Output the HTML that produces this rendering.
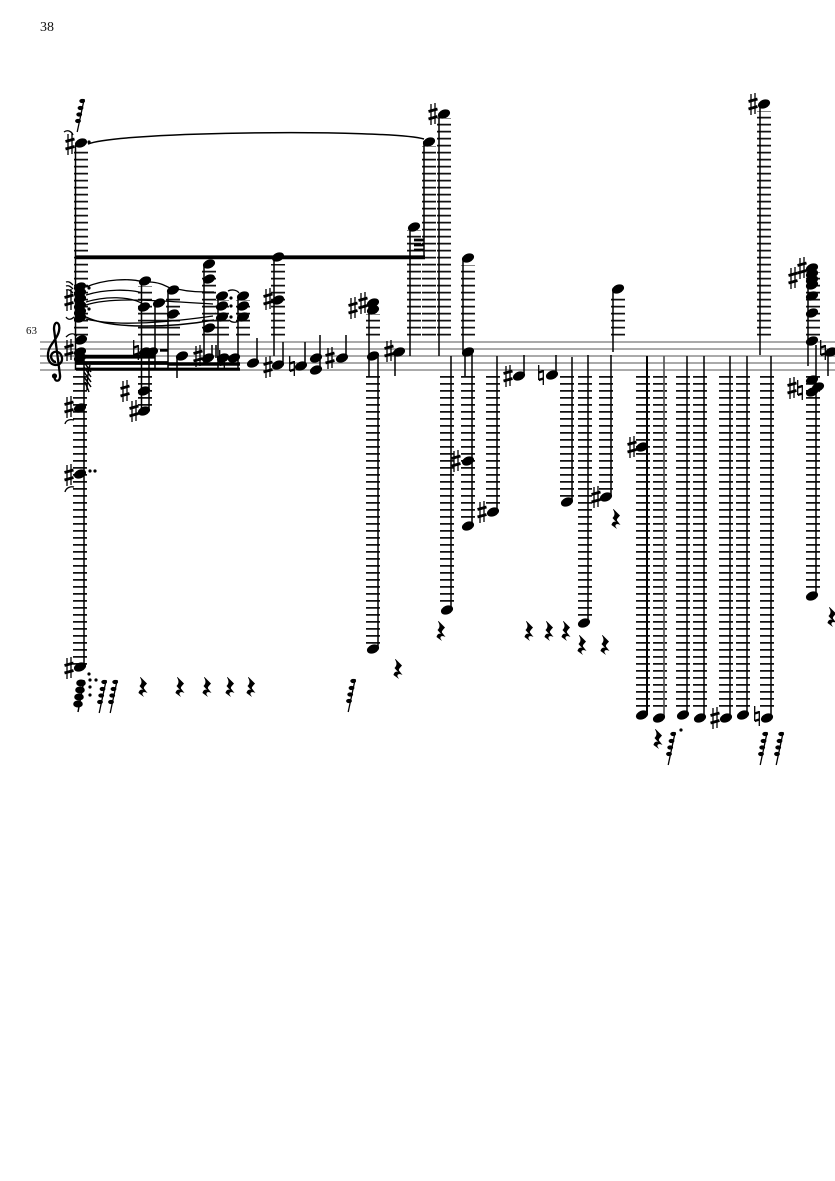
<!DOCTYPE html>
<html><head><meta charset="utf-8"><style>
html,body{margin:0;padding:0;background:#fff;width:835px;height:1181px;overflow:hidden}
svg{display:block}
text{font-family:"Liberation Serif",serif;fill:#111}
.l{stroke:#111;fill:none;stroke-dasharray:1.7 5.3;stroke-width:14}
.s{stroke:#000;stroke-width:1.5;fill:none}
.t{stroke:#000;stroke-width:1.3;fill:none}
</style></head><body>
<svg width="835" height="1181" viewBox="0 0 835 1181" xmlns="http://www.w3.org/2000/svg">
<defs>
<ellipse id="n" rx="6.3" ry="4.3" transform="rotate(-22)" fill="#000"/>
<g id="sh" stroke="#000" fill="none"><path d="M-2 -10V11M2 -11V10" stroke-width="1.300"/><path d="M-4.500 -2.500L4.500 -5M-4.500 5L4.500 2.500" stroke-width="2.800"/></g>
<g id="na" stroke="#000" fill="none"><path d="M-2.300 -10V5M2.300 -5V10" stroke-width="1.300"/><path d="M-2.300 -2.500L2.300 -4M-2.300 5L2.300 3.500" stroke-width="2.400"/></g>
<path id="r" d="M-2.500 -10L4 -3.500C2 -1 0.500 0 1 1.500L4.500 6C1.500 4.500 -1 5 -0.500 7.500L1 10L-4.500 6C-4 3.500 -2 2 0 3L-3.500 -1C-1.500 -3 -0.500 -5.500 -3 -9.500Z" fill="#000"/>
<g id="g" fill="#000"><path d="M-3.800 17L3.200 -16" stroke="#000" stroke-width="1.300" fill="none"/><ellipse cx="1.200" cy="-14" rx="2.900" ry="2.100"/><ellipse cx="-0.500" cy="-7" rx="2.900" ry="2.100"/><ellipse cx="-1.800" cy="-0.500" rx="2.900" ry="2.100"/><ellipse cx="-3" cy="6" rx="2.900" ry="2.100"/></g>
</defs>

<text x="40" y="31" font-size="14">38</text>
<text x="26" y="334" font-size="11">63</text>

<!-- staff -->
<path d="M40 342H835M40 349H835M40 356H835M40 363H835M40 370H835" stroke="#777" stroke-width="1.300" fill="none"/>

<!-- clef -->
<path d="M55 376C53 382 61 383 60 375L54 329C54 319 61 322 59 331C57 341 47 345 48 357C49 368 63 367 62 358C61 350 52 350 51 356C51 360 54 362 56 362" stroke="#000" stroke-width="2.300" fill="none"/>
<circle cx="54.500" cy="376" r="2.600" fill="#000"/>

<!-- ledger lines above -->
<g class="l">
<path d="M81 335.500V150"/><path d="M145 335.500V286"/><path d="M159 335.500V310"/><path d="M173 335.500V295"/>
<path d="M209 335.500V270"/><path d="M222 335.500V300"/><path d="M243 335.500V300"/><path d="M278 335.500V264"/>
<path d="M373 335.500V314"/><path d="M414 335.500V230"/><path d="M429 335.500V146"/><path d="M444 335.500V118"/>
<path d="M468 335.500V265"/><path d="M618 335.500V295"/><path d="M764 335.500V111"/><path d="M813 335.500V272"/>
</g>
<!-- ledger lines below -->
<g class="l">
<path d="M80 376V666"/><path d="M145 376V406"/><path d="M373 376V644"/><path d="M447 376V602"/>
<path d="M468 376V518"/><path d="M493 376V505"/><path d="M567 376V497"/><path d="M585 376V616"/>
<path d="M606 376V490"/><path d="M643 376V710"/><path d="M660 376V710"/><path d="M683 376V710"/>
<path d="M700 376V710"/><path d="M726 376V710"/><path d="M743 376V710"/><path d="M767 376V710"/><path d="M813 376V591"/>
</g>

<!-- stems -->
<g class="s">
<path d="M75.500 145V370M84 360V667"/>
<path d="M141.500 282V411M149 355V411M155 305V369M168 290V369M177 357V378"/>
<path d="M204 264V365M212 345V358M216 345V358M218 297V369M238 298V369"/>
<path d="M257 338V363M274 257V356M283 342V365M305 342V364M320 335V369M346 335V358"/>
<path d="M369 305V377M378 356V648M395 354V376"/>
<path d="M410 228V356M424 141V257M439 115V356M451 356V609"/>
<path d="M463 258V352M472 352V525M497 356V511"/>
<path d="M465 352V376M524 355V375M556 355V375M572 357V500M588 355V622M611 355V496M613 290V352"/>
<path d="M647 356V714" stroke-width="2"/><path d="M664 356V717" stroke="#555" stroke-width="1.700"/><path d="M687 356V714M704 356V717M730 356V717M747 356V714M771 356V717M760 105V355"/>
<path d="M808 270V366M816 345V595M828 355V376"/>
</g>

<!-- beams -->
<path d="M75 257.300H425" stroke="#000" stroke-width="3.800"/>
<g stroke="#000" fill="none">
<path d="M76 356.700H155" stroke-width="3.800"/>
<path d="M160 350.300H168" stroke-width="2.800"/>
<path d="M76 363H168" stroke-width="3.800"/>
<path d="M168 364H240" stroke-width="3.400"/>
<path d="M76 369.200H240" stroke-width="3.200"/>
<path d="M217 357.500H239" stroke-width="2.800"/>
<path d="M414 240H424M414 245H424M414 250H424" stroke-width="2.800"/>
</g>
<!-- hatch flags -->
<g stroke="#000" stroke-width="1.500" fill="none">
<path d="M84 362L91 372M84 367L91 377M84 372L91 382M84 377L91 387M85 382L89 392"/>
<path d="M90 365C88 372 87 380 87 390"/>
</g>

<!-- ties -->
<g class="t">
<path d="M88 144C120 131 390 129 424 139" stroke-width="1.500"/>
<path d="M86 287C105 279 130 278 143 282"/>
<path d="M149 282C158 282 164 285 170 288"/>
<path d="M177 289C190 292 200 292 214 292"/>
<path d="M86 295C105 289 130 289 142 293"/>
<path d="M86 302C105 296 130 296 143 304"/>
<path d="M86 305C110 297 150 300 213 304"/>
<path d="M86 317C110 329 170 328 214 320" stroke-width="1.500"/>
<path d="M86 319C110 325 150 325 213 316"/>
<path d="M66 282C69 281 71 283 73 285M66 286C69 285 71 287 73 289M66 290C69 289 71 291 73 293M66 317C68 320 71 320 74 317"/>
<path d="M64 132C68 129 72 132 73 135M66 337C70 333 74 333 77 336M65 424C66 420 70 419 74 420M65 492C66 488 70 486 74 487"/>
<path d="M228 291C232 289 237 290 239 293M229 320C232 323 237 323 239 320"/>
</g>

<!-- noteheads -->
<g>
<use href="#n" x="81" y="143"/>
<use href="#n" x="80" y="287"/><use href="#n" x="80" y="293"/><use href="#n" x="80" y="299"/><use href="#n" x="80" y="306"/><use href="#n" x="80" y="312"/><use href="#n" x="80" y="318"/>
<use href="#n" x="81" y="340"/><use href="#n" x="80" y="352"/><use href="#n" x="80" y="358"/>
<use href="#n" x="80" y="408"/><use href="#n" x="80" y="474"/><use href="#n" x="80" y="667"/>
<use href="#n" x="145" y="281"/><use href="#n" x="144" y="307"/><use href="#n" x="159" y="303"/><use href="#n" x="173" y="290"/><use href="#n" x="173" y="314"/>
<use href="#n" x="145" y="352"/><use href="#n" x="152" y="352"/><use href="#n" x="144" y="391"/><use href="#n" x="144" y="411"/>
<use href="#n" x="182" y="356"/>
<use href="#n" x="209" y="264"/><use href="#n" x="209" y="279"/><use href="#n" x="209" y="328"/><use href="#n" x="208" y="358"/>
<use href="#n" x="222" y="296"/><use href="#n" x="222" y="306"/><use href="#n" x="222" y="317"/><use href="#n" x="223" y="358"/><use href="#n" x="234" y="358"/>
<use href="#n" x="243" y="296"/><use href="#n" x="243" y="306"/><use href="#n" x="243" y="317"/>
<use href="#n" x="253" y="363"/><use href="#n" x="278" y="257"/><use href="#n" x="278" y="300"/><use href="#n" x="278" y="365"/>
<use href="#n" x="301" y="366"/><use href="#n" x="316" y="358"/><use href="#n" x="316" y="370"/><use href="#n" x="342" y="358"/>
<use href="#n" x="373" y="303"/><use href="#n" x="373" y="310"/><use href="#n" x="373" y="356"/><use href="#n" x="373" y="649"/>
<use href="#n" x="399" y="352"/><use href="#n" x="414" y="227"/><use href="#n" x="429" y="142"/><use href="#n" x="444" y="114"/>
<use href="#n" x="447" y="610"/><use href="#n" x="468" y="258"/><use href="#n" x="468" y="352"/><use href="#n" x="468" y="461"/><use href="#n" x="468" y="526"/>
<use href="#n" x="493" y="512"/><use href="#n" x="519" y="376"/><use href="#n" x="552" y="375"/><use href="#n" x="567" y="502"/>
<use href="#n" x="584" y="623"/><use href="#n" x="606" y="497"/><use href="#n" x="618" y="289"/><use href="#n" x="642" y="447"/>
<use href="#n" x="642" y="715"/><use href="#n" x="659" y="718"/><use href="#n" x="683" y="715"/><use href="#n" x="700" y="718"/>
<use href="#n" x="726" y="718"/><use href="#n" x="743" y="715"/><use href="#n" x="767" y="718"/><use href="#n" x="764" y="104"/>
<use href="#n" x="812" y="268"/><use href="#n" x="812" y="274"/><use href="#n" x="812" y="280"/><use href="#n" x="812" y="285"/><use href="#n" x="812" y="296"/><use href="#n" x="812" y="313"/><use href="#n" x="812" y="341"/>
<use href="#n" x="812" y="380"/><use href="#n" x="812" y="392"/><use href="#n" x="818" y="387"/><use href="#n" x="812" y="596"/><use href="#n" x="831" y="352"/>
</g>

<!-- accidentals -->
<g>
<use href="#sh" x="70" y="144"/><use href="#sh" x="69" y="300"/><use href="#sh" x="69" y="350"/><use href="#sh" x="69" y="407"/><use href="#sh" x="69" y="475"/><use href="#sh" x="69" y="668"/>
<use href="#sh" x="125" y="391"/><use href="#sh" x="134" y="411"/><use href="#sh" x="198" y="356"/><use href="#sh" x="268" y="299"/><use href="#sh" x="268" y="367"/>
<use href="#sh" x="330" y="358"/><use href="#sh" x="353" y="308"/><use href="#sh" x="363" y="303"/><use href="#sh" x="389" y="351"/><use href="#sh" x="433" y="114"/>
<use href="#sh" x="456" y="461"/><use href="#sh" x="482" y="512"/><use href="#sh" x="508" y="376"/><use href="#sh" x="596" y="497"/><use href="#sh" x="632" y="447"/>
<use href="#sh" x="715" y="718"/><use href="#sh" x="753" y="104"/><use href="#sh" x="793" y="278"/><use href="#sh" x="802" y="268"/><use href="#sh" x="792" y="388"/>
<use href="#na" x="136" y="350"/><use href="#na" x="292" y="366"/><use href="#na" x="541" y="375"/><use href="#na" x="757" y="716"/><use href="#na" x="823" y="350"/><use href="#na" x="800" y="390"/><use href="#na" x="222" y="360"/>
</g>

<!-- dots -->
<g fill="#000">
<circle cx="89" cy="142" r="1.600"/><circle cx="89" cy="288" r="1.600"/><circle cx="89" cy="309" r="1.600"/>
<circle cx="231" cy="298" r="1.600"/><circle cx="231" cy="306" r="1.600"/><circle cx="231" cy="317" r="1.600"/>
<circle cx="90" cy="471" r="1.600"/><circle cx="95" cy="471" r="1.600"/>
<circle cx="89" cy="674" r="1.600"/><circle cx="90" cy="680" r="1.600"/><circle cx="90" cy="687" r="1.600"/><circle cx="90" cy="695" r="1.600"/>
<circle cx="96" cy="680" r="1.600"/><circle cx="681" cy="730" r="1.600"/>
</g>

<!-- grace groups -->
<g>
<use href="#g" x="81" y="115"/>
<path d="M78 712L84 680" stroke="#000" stroke-width="1.500"/>
<g fill="#000"><ellipse cx="81" cy="683" rx="4.800" ry="3.500"/><ellipse cx="80" cy="690" rx="4.800" ry="3.500"/><ellipse cx="79" cy="697" rx="4.800" ry="3.500"/><ellipse cx="78" cy="704" rx="4.800" ry="3.500"/></g>
<use href="#g" x="103" y="696"/><use href="#g" x="114" y="696"/>
<use href="#g" x="352" y="695"/>
<use href="#g" x="672" y="748"/><use href="#g" x="764" y="748"/><use href="#g" x="780" y="748"/>
</g>

<!-- rests -->
<g>
<use href="#r" x="143" y="687"/><use href="#r" x="180" y="687"/><use href="#r" x="207" y="687"/><use href="#r" x="230" y="687"/><use href="#r" x="251" y="687"/>
<use href="#r" x="398" y="669"/><use href="#r" x="441" y="631"/><use href="#r" x="529" y="631"/><use href="#r" x="549" y="631"/><use href="#r" x="566" y="631"/>
<use href="#r" x="582" y="645"/><use href="#r" x="605" y="645"/><use href="#r" x="616" y="519"/><use href="#r" x="658" y="739"/><use href="#r" x="832" y="617"/>
</g>
</svg>
</body></html>
